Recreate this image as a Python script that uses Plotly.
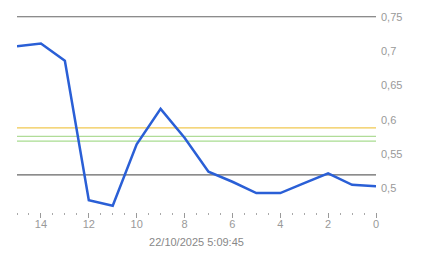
import plotly.graph_objects as go

x_vals = [15, 14, 13, 12, 11, 10, 9, 8, 7, 6, 5, 4, 3, 2, 1, 0]
y_vals = [0.707, 0.711, 0.686, 0.483, 0.475, 0.5645, 0.616, 0.574, 0.5247,
          0.510, 0.4935, 0.4935, 0.508, 0.5223, 0.5056, 0.5036]

ref_levels = [0.75, 0.52, 0.5884, 0.576, 0.569]
ref_colors = ["#666666", "#666666", "#f0c850", "#b0dc98", "#a8dc90"]

y_tick_vals = [0.5, 0.55, 0.6, 0.65, 0.7, 0.75]
y_tick_text = ["0,5", "0,55", "0,6", "0,65", "0,7", "0,75"]
x_tick_vals = [14, 12, 10, 8, 6, 4, 2, 0]
x_title = "22/10/2025 5:09:45"

fig = go.Figure()
for lvl, col in zip(ref_levels, ref_colors):
    fig.add_trace(go.Scatter(x=[15, 0], y=[lvl, lvl], mode="lines",
                             line=dict(color=col, width=1.2),
                             hoverinfo="skip", showlegend=False))
fig.add_trace(go.Scatter(x=x_vals, y=y_vals, mode="lines",
                         line=dict(color="#2a5fd6", width=2.5),
                         showlegend=False))

fig.update_layout(
    width=443, height=258,
    margin=dict(l=17, r=67, t=11, b=46),
    paper_bgcolor="white", plot_bgcolor="white",
    font=dict(family="Liberation Sans, Arial", size=11, color="#999999"),
    xaxis=dict(range=[15, 0], showgrid=False, zeroline=False, showline=False,
               tickmode="array", tickvals=x_tick_vals,
               ticks="outside", ticklen=5, tickcolor="#999999", tickwidth=1,
               ticklabelstandoff=-3,
               minor=dict(dtick=0.5, ticks="outside", ticklen=2,
                          tickcolor="#aaaaaa", tickwidth=1, showgrid=False),
               title=dict(text=x_title, font=dict(size=11, color="#888888"),
                          standoff=9),
               tickfont=dict(size=11, color="#999999")),
    yaxis=dict(range=[0.466, 0.754], side="right", showgrid=False,
               zeroline=False, showline=False,
               tickmode="array", tickvals=y_tick_vals, ticktext=y_tick_text,
               ticks="", ticklabelstandoff=4,
               tickfont=dict(size=11, color="#999999")),
)

fig.write_html("out.html")
